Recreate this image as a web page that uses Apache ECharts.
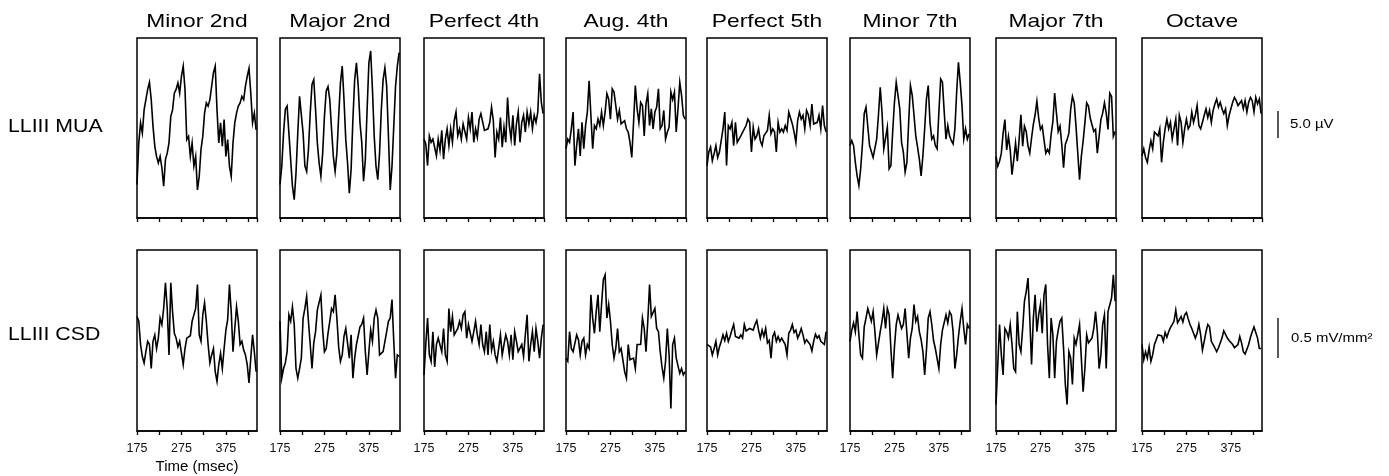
<!DOCTYPE html>
<html><head><meta charset="utf-8">
<script src="https://cdn.jsdelivr.net/npm/echarts@6/dist/echarts.min.js"></script>
<style>html,body{margin:0;padding:0;background:#fff}#c{width:1389px;height:476px}</style>
</head><body><div id="c"></div>
<script>
// ---------- DATA ----------
const intervals = ['Minor 2nd','Major 2nd','Perfect 4th','Aug. 4th','Perfect 5th','Minor 7th','Major 7th','Octave'];
const rowLabels = ['LLIII MUA','LLIII CSD'];
const xTickLabels = [175, 275, 375];
const timeMs = [175,179,183,187,191,195,199,203,207,211,215,219,223,227,231,235,239,243,247,251,255,259,263,267,271,275,279,283,287,291,295,299,303,307,311,315,319,323,327,331,335,339,343,347,351,355,359,363,367,371,375,379,383,387,391,395,399,403,407,411,415,419,423,427,431,435,439,443];

// LLIII MUA (µV)
const muaMinor2nd = [6.2,13.9,17.6,15.7,20.0,21.9,23.8,25.1,21.9,17.0,13.3,11.4,10.2,11.4,9.3,5.9,10.8,12.0,13.9,18.8,20.0,23.1,23.8,25.0,23.1,26.2,28.1,23.8,14.5,15.1,11.4,13.9,9.6,11.4,5.2,7.7,12.7,15.1,19.4,21.3,20.7,21.9,24.4,26.9,28.1,20.0,13.9,17.6,13.3,18.2,11.4,14.5,9.6,7.7,13.9,17.6,19.4,20.7,21.3,22.5,21.9,24.4,26.2,27.7,23.1,17.6,19.4,16.3];
const muaMajor2nd = [6.2,9.6,15.7,20.1,20.7,15.7,10.8,5.9,3.4,8.3,15.7,22.5,22.5,15.7,9.6,8.6,12.7,19.4,24.7,25.6,20.1,13.9,10.2,7.7,12.0,18.8,23.5,24.3,21.9,16.4,11.4,8.6,12.0,18.8,25.0,28.1,21.9,14.5,10.2,4.6,9.0,18.2,25.6,28.7,24.4,17.6,13.9,6.8,10.8,20.1,28.7,30.9,23.8,15.1,9.6,7.1,12.0,20.1,25.6,27.8,24.4,15.1,5.2,9.6,17.0,24.4,28.1,30.6];
const muaPerfect4th = [14.6,13.7,9.7,15.2,14.0,14.6,14.6,11.5,14.6,12.5,16.2,10.9,14.6,16.5,13.4,16.5,14.0,18.0,19.6,15.2,16.5,14.6,17.4,17.7,14.6,18.6,16.5,19.6,14.0,16.5,14.9,18.3,19.3,19.6,16.2,16.5,16.5,17.7,20.5,18.0,11.2,15.9,14.6,18.6,13.1,16.8,14.0,22.3,17.1,14.6,19.0,13.4,17.4,19.6,14.0,17.7,19.0,15.9,19.6,17.4,19.6,16.5,19.0,17.7,19.6,26.7,21.4,19.3];
const muaAug4th = [12.8,14.6,14.0,16.5,19.6,9.7,13.4,16.5,11.5,17.7,12.8,17.1,19.6,25.4,19.0,12.8,17.1,16.5,18.3,17.1,19.6,17.1,19.6,23.0,22.0,18.3,23.9,23.3,20.8,18.3,19.9,17.4,17.1,18.0,16.5,15.9,14.0,11.2,17.7,24.5,20.2,17.7,21.4,20.8,15.2,21.1,23.0,17.1,20.2,16.5,19.6,20.5,23.9,16.5,17.1,19.9,14.6,15.9,16.8,23.3,21.9,23.3,15.9,20.2,25.1,22.7,19.0,18.3];
const muaPerfect5th = [9.7,12.2,13.1,10.6,11.9,13.4,11.2,12.2,12.2,16.5,19.6,9.7,17.1,16.5,17.7,13.4,17.7,14.0,14.6,15.2,15.2,16.5,17.1,18.3,17.7,12.2,16.8,14.6,15.2,16.5,14.3,13.4,15.2,14.9,16.2,19.0,15.6,16.5,15.9,12.2,17.7,15.9,16.5,15.9,17.1,16.2,19.6,19.3,17.4,15.9,14.0,18.0,19.6,18.3,19.0,16.5,19.9,19.1,17.1,21.1,17.4,17.1,17.7,19.0,16.5,20.8,17.1,15.9];
const muaMinor7th = [13.4,14.3,13.4,10.3,7.8,6.0,9.1,13.7,19.3,20.5,20.2,13.4,13.7,11.2,10.9,14.6,19.0,24.2,19.6,12.8,12.8,16.8,9.1,9.7,15.9,21.4,25.1,22.7,20.2,14.0,12.2,8.5,10.3,17.7,24.5,22.7,19.0,15.2,13.1,10.9,7.8,11.5,16.5,22.0,24.5,17.7,14.6,15.2,13.4,12.8,19.6,25.7,25.1,19.6,14.6,17.1,15.2,14.3,13.7,16.5,23.3,28.8,25.1,20.8,14.6,16.5,14.6,15.6];
const muaMajor7th = [11.4,9.6,10.5,12.0,15.7,18.2,12.6,15.1,12.6,8.0,10.8,13.9,10.5,14.5,19.1,13.3,17.0,16.0,13.3,12.0,14.8,17.3,19.1,21.6,18.5,16.4,17.0,14.5,12.0,12.7,12.0,15.4,17.9,23.1,19.4,16.0,17.0,13.6,9.3,13.6,14.5,15.7,20.1,22.5,21.3,17.0,12.0,7.1,11.4,14.2,17.6,21.3,20.7,18.5,18.2,16.0,16.4,12.0,15.1,18.2,19.4,21.3,19.4,16.4,23.1,22.5,15.1,16.0];
const muaOctave = [11.5,12.8,11.2,10.3,12.5,14.3,12.8,15.9,16.2,15.2,16.5,10.3,14.0,16.5,18.3,16.5,17.7,14.6,16.5,18.3,13.4,19.0,17.7,14.0,16.5,18.3,16.5,17.1,19.6,17.7,19.0,20.8,17.1,16.5,17.7,19.0,20.2,18.6,19.9,17.7,19.9,21.1,22.0,20.5,21.4,20.2,19.3,20.2,17.1,19.0,20.2,21.4,22.3,21.7,20.8,20.5,21.7,20.2,21.7,19.6,21.4,22.3,21.7,19.6,22.3,21.1,22.0,19.3];

// LLIII CSD (mV/mm²)
const csdMinor2nd = [1.43,1.37,1.08,0.93,0.85,0.99,1.12,1.08,0.78,1.12,1.20,1.03,1.16,1.41,1.33,1.53,1.85,1.53,0.95,1.85,1.49,1.22,1.16,1.05,1.12,1.14,0.83,1.03,1.16,1.14,1.19,1.37,1.37,1.53,1.83,1.20,1.12,1.45,1.60,1.37,1.08,0.85,0.95,1.03,0.74,0.62,0.83,0.97,0.78,1.03,1.26,1.39,1.83,1.49,0.99,1.28,1.55,1.37,1.08,1.12,1.01,0.95,0.83,0.60,0.91,1.20,0.99,0.74];
const csdMajor2nd = [1.37,0.66,0.78,0.85,0.99,1.45,1.37,1.55,1.33,0.78,0.66,0.78,0.91,1.41,1.53,1.68,1.37,1.08,0.78,1.10,1.24,1.51,1.51,1.70,1.26,0.99,1.03,1.22,1.37,1.53,1.49,1.70,1.41,1.05,0.87,0.95,1.18,1.28,1.28,0.91,1.20,0.66,0.91,1.08,1.08,1.30,1.33,1.41,0.99,0.70,0.99,1.26,1.12,1.41,1.51,1.41,0.95,0.95,0.99,0.99,1.24,1.37,1.41,1.64,1.12,0.66,0.95,0.93];
const csdPerfect4th = [0.70,1.08,1.41,0.95,0.87,1.24,0.80,1.08,1.16,1.16,0.99,1.28,0.95,0.87,1.53,1.24,1.43,1.20,1.20,1.28,1.37,1.28,1.45,1.49,1.16,1.33,1.33,1.12,1.24,1.37,1.20,1.08,1.33,1.08,0.99,1.24,0.95,1.33,1.01,1.12,0.95,0.87,1.03,1.20,0.95,1.08,1.20,1.12,0.95,1.20,0.89,1.24,1.12,0.99,1.01,1.08,0.93,1.20,1.45,0.87,1.08,1.24,0.99,1.28,1.12,0.91,1.16,1.33];
const csdAug4th = [0.91,0.87,1.24,1.03,0.99,0.99,1.20,1.14,0.95,1.12,1.16,0.95,1.08,1.03,1.70,1.41,1.22,1.49,1.70,1.24,1.58,1.89,1.95,1.41,1.58,1.37,1.08,0.91,1.03,1.28,0.99,1.03,1.03,0.74,0.66,1.08,0.89,0.91,0.91,0.78,1.08,1.08,1.08,1.41,1.28,0.99,1.37,1.83,1.43,1.41,1.53,1.28,1.24,0.99,0.80,0.66,0.87,1.28,0.95,0.28,1.08,1.16,0.91,0.91,0.72,0.78,0.70,0.74];
const csdPerfect5th = [1.08,1.10,1.05,0.95,1.03,1.12,0.95,1.05,1.12,1.20,1.13,1.22,1.12,1.18,1.26,1.33,1.18,1.19,1.16,1.20,1.16,1.33,1.25,1.25,1.28,1.30,1.26,1.33,1.38,1.26,1.16,1.26,1.18,1.28,1.10,1.13,0.91,1.18,1.23,1.12,1.18,1.12,1.16,1.18,1.08,0.95,1.22,1.26,1.33,1.23,1.26,1.16,1.21,1.28,1.20,1.10,1.14,1.12,1.08,1.00,1.12,1.21,1.16,1.19,1.12,1.14,1.08,1.24];
const csdMinor7th = [1.12,1.26,1.35,1.24,1.49,1.20,0.95,0.91,1.30,1.41,1.53,1.53,1.37,1.49,1.24,0.95,0.95,1.24,1.37,1.53,1.28,1.53,1.45,1.03,0.66,1.05,1.33,1.45,1.47,1.28,1.33,1.53,1.22,0.91,1.16,1.28,1.58,1.37,1.43,1.24,1.14,0.99,0.70,1.01,1.41,1.49,1.33,1.13,1.03,1.05,0.78,1.08,1.26,1.24,1.45,1.35,1.49,1.45,1.24,0.78,0.95,1.18,1.37,1.53,1.28,1.08,1.33,1.28];
const csdMajor7th = [0.33,0.83,1.33,0.95,0.70,1.28,1.24,1.16,1.33,1.08,0.78,0.74,1.49,1.08,0.99,1.28,1.62,1.74,1.91,1.41,0.83,1.41,1.70,1.24,1.45,1.58,1.22,1.70,1.83,1.08,0.66,1.41,1.20,0.66,1.12,1.26,1.37,1.41,1.03,0.58,0.33,0.99,0.91,0.58,1.16,1.08,1.20,1.33,0.91,0.49,0.78,1.20,1.10,1.08,1.16,1.28,1.49,1.24,0.78,0.95,1.33,1.45,0.78,1.49,1.47,1.66,1.95,1.62];
const csdOctave = [1.08,0.89,0.99,0.91,1.05,0.87,0.95,1.08,1.08,1.20,1.22,1.19,1.12,1.23,1.17,1.24,1.29,1.28,1.37,1.51,1.35,1.37,1.43,1.36,1.45,1.48,1.40,1.33,1.28,1.22,1.16,1.22,1.33,1.20,1.01,1.12,1.24,1.33,1.30,1.12,1.08,1.10,0.99,1.04,1.10,1.16,1.25,1.26,1.16,1.13,1.14,1.08,1.04,1.03,1.08,1.18,1.10,0.99,0.96,0.97,1.08,1.17,1.24,1.30,1.28,1.16,1.03,1.03];

// scale bars: [bar length, label]
const scaleMUA = {len: 5.0, label: '5.0 µV'};
const scaleCSD = {len: 0.5, label: '0.5 mV/mm²'};

// ---------- LAYOUT / RENDER ----------
const rows = [
  [muaMinor2nd, muaMajor2nd, muaPerfect4th, muaAug4th, muaPerfect5th, muaMinor7th, muaMajor7th, muaOctave],
  [csdMinor2nd, csdMajor2nd, csdPerfect4th, csdAug4th, csdPerfect5th, csdMinor7th, csdMajor7th, csdOctave]
];
const FONT = '"Liberation Sans", Arial, Helvetica, sans-serif';
const colLefts = [137, 280, 424, 566, 707, 850, 996, 1142];
const rowTops = [38, 250], rowHeights = [180, 181], rowYMax = [33.3, 2.26];
const panelW = 120;

const chart = echarts.init(document.getElementById('c'), null, {renderer: 'canvas'});
const grid = [], xAxis = [], yAxis = [], series = [];
rows.forEach((rowData, r) => {
  rowData.forEach((vals, c) => {
    const idx = r * 8 + c;
    grid.push({left: colLefts[c], top: rowTops[r], width: panelW, height: rowHeights[r],
      show: true, borderColor: '#000', borderWidth: 1.5, backgroundColor: 'transparent',
      containLabel: false, outerBoundsMode: 'none'});
    xAxis.push({gridIndex: idx, type: 'value', min: 175, max: 445, interval: 50,
      axisLine: {show: true, onZero: false, lineStyle: {color: '#000', width: 1.5}},
      axisTick: {show: true, inside: false, length: 4, lineStyle: {color: '#000', width: 1.3}},
      axisLabel: {show: r === 1, color: '#111', fontSize: 12.5, fontFamily: FONT, margin: 11,
        showMinLabel: true, showMaxLabel: false,
        formatter: v => xTickLabels.indexOf(v) >= 0 ? String(v) : ''},
      splitLine: {show: false}});
    yAxis.push({gridIndex: idx, type: 'value', min: 0, max: rowYMax[r], show: false,
      splitLine: {show: false}});
    series.push({type: 'line', xAxisIndex: idx, yAxisIndex: idx,
      data: timeMs.map((t, i) => [t, vals[i]]),
      showSymbol: false, symbol: 'none', silent: true, animation: false,
      lineStyle: {color: '#000', width: 1.6, join: 'miter'}});
  });
});

chart.setOption({animation: false, backgroundColor: '#fff', grid, xAxis, yAxis, series});

function txt(text, x, y, size, align, sx) {
  return {type: 'text', x, y, scaleX: sx || 1, silent: true,
    style: {text, fontSize: size, fontFamily: FONT, fill: '#000',
      textAlign: align, align: align, textVerticalAlign: 'middle', verticalAlign: 'middle'}};
}
const g = [];
intervals.forEach((name, c) => g.push(txt(name, colLefts[c] + panelW / 2, 22, 19, 'center', 1.2)));
g.push(txt(rowLabels[0], 8, 127, 19, 'left', 1.12));
g.push(txt(rowLabels[1], 8, 335, 19, 'left', 1.12));
g.push(txt('Time (msec)', 197, 467, 15, 'center', 1));

// scale bars drawn through the last column's y scales
const barX = 1278;
const mA = chart.convertToPixel({gridIndex: 7}, [445, 14.8]);
const mB = chart.convertToPixel({gridIndex: 7}, [445, 14.8 + scaleMUA.len]);
const cA = chart.convertToPixel({gridIndex: 15}, [445, 0.91]);
const cB = chart.convertToPixel({gridIndex: 15}, [445, 0.91 + scaleCSD.len]);
g.push({type: 'line', silent: true, shape: {x1: barX, y1: mA[1], x2: barX, y2: mB[1]}, style: {stroke: '#222', lineWidth: 1.5}});
g.push({type: 'line', silent: true, shape: {x1: barX, y1: cA[1], x2: barX, y2: cB[1]}, style: {stroke: '#222', lineWidth: 1.5}});
g.push(txt(scaleMUA.label, 1290, (mA[1] + mB[1]) / 2, 13, 'left', 1.15));
g.push(txt(scaleCSD.label, 1291, (cA[1] + cB[1]) / 2, 13, 'left', 1.15));

chart.setOption({graphic: g});
</script>
</body></html>
